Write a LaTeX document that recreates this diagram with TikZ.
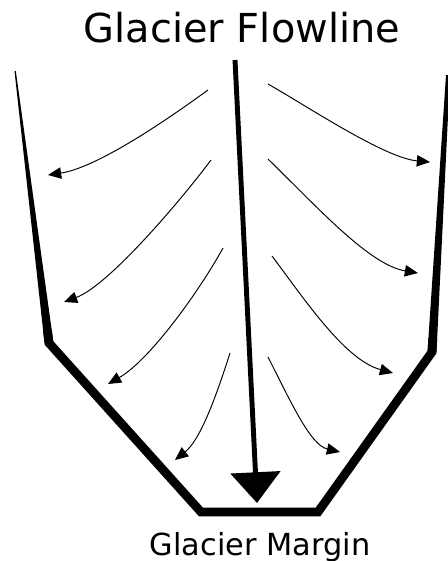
\documentclass[tikz,border=0pt]{standalone}
\usepackage{fontspec}
\setmainfont{DejaVu Sans}
\usetikzlibrary{arrows.meta}

\begin{document}
\begin{tikzpicture}[x=0.02cm, y=-0.02cm,
    wall/.style={line width=5pt, line join=miter},
    flowarrow/.style={line width=0.55pt, -{Triangle[length=7.5pt,width=6.5pt]}},
    mainflow/.style={line width=2.8pt, -{Triangle[length=17.5pt,width=28pt]}}]

    \useasboundingbox (0,0) rectangle (447,561);

    % Define the corners of the valley
    \coordinate (LT) at (15,71);
    \coordinate (LC) at (49,343);
    \coordinate (BL) at (201,512);
    \coordinate (BR) at (318,512);
    \coordinate (RC) at (432,352);
    \coordinate (RT) at (448,75);

    % Draw the valley walls (sides taper towards the top)
    \fill (14.5,71) -- (15.8,71) -- (53.5,343) -- (44.5,343) -- cycle;
    \fill (446,75) -- (450,75) -- (436.5,352) -- (427.5,352) -- cycle;
    \draw[wall] (47.4,330) -- (LC) -- (BL) -- (BR) -- (RC) -- (432.8,338);

    % Define the start and end points of the flow arrows
    \coordinate (A1) at (208,90);  \coordinate (B1) at (48,175);
    \coordinate (A2) at (211,160); \coordinate (B2) at (64,302);
    \coordinate (A3) at (223,248); \coordinate (B3) at (108,384);
    \coordinate (A4) at (230,353); \coordinate (B4) at (175,460);
    \coordinate (C1) at (268,84);  \coordinate (D1) at (430,162);
    \coordinate (C2) at (268,159); \coordinate (D2) at (418,273);
    \coordinate (C3) at (272,256); \coordinate (D3) at (393,373);
    \coordinate (C4) at (268,357); \coordinate (D4) at (340,452);

    % Draw the flow arrows on the left
    \draw[flowarrow] (A1) .. controls (160,125) and (95,168) .. (B1);
    \draw[flowarrow] (A2) .. controls (185,195) and (110,285) .. (B2);
    \draw[flowarrow] (A3) .. controls (200,290) and (150,360) .. (B3);
    \draw[flowarrow] (A4) .. controls (215,400) and (200,440) .. (B4);

    % Draw the flow arrows on the right
    \draw[flowarrow] (C1) .. controls (310,108) and (385,158) .. (D1);
    \draw[flowarrow] (C2) .. controls (320,210) and (370,265) .. (D2);
    \draw[flowarrow] (C3) .. controls (305,300) and (345,360) .. (D3);
    \draw[flowarrow] (C4) .. controls (290,400) and (310,445) .. (D4);

    % Draw the main flowline
    \coordinate (top) at (235,60);
    \coordinate (tip) at (257,503);
    \draw[mainflow] (top) -- (tip);

    % Place the labels
    \node[anchor=base, font=\fontsize{22.7pt}{26pt}\selectfont, inner sep=0pt] (flowline) at (242,42) {Glacier Flowline};
    \node[anchor=base, font=\fontsize{17.3pt}{20pt}\selectfont, inner sep=0pt] (margin) at (260,555) {Glacier Margin};

\end{tikzpicture}
\end{document}
